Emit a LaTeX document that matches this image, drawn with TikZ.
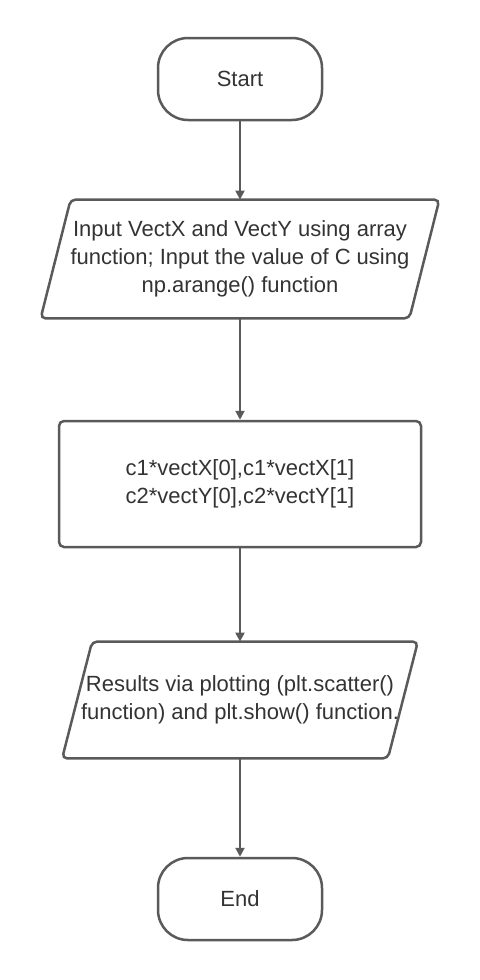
\documentclass[tikz,border=0pt]{standalone}
\usepackage{fontspec}
\setmainfont{Liberation Sans}
\usetikzlibrary{arrows.meta,calc}
\definecolor{edgegray}{HTML}{5A5A5A}
\definecolor{textgray}{HTML}{333333}

\begin{document}
\begin{tikzpicture}[x=0.5pt,y=-0.5pt,font=\fontsize{11}{14}\selectfont,
  terminal/.style={draw=edgegray,line width=1.25pt,rounded corners=15pt,minimum width=82pt,minimum height=41pt,text=textgray},
  process/.style={draw=edgegray,line width=1.25pt,rounded corners=2.5pt,minimum width=181pt,minimum height=63pt,align=center,text=textgray},
  io/.style={align=center,text=textgray,inner sep=0pt},
  flow/.style={draw=edgegray,line width=1pt,-{Triangle[width=4.5pt,length=4.5pt]}}]
  \useasboundingbox (0,0) rectangle (480,980);
  % boxes, top to bottom (units: px of the 480x980 sheet)
  \node[terminal] (start) at (240,79) {Start};
  \node[io,minimum width=184pt,minimum height=59pt] (input) at (240,259)
    {Input VectX and VectY using array\\function; Input the value of C using\\np.arange() function};
  \node[process] (calc) at (240,484)
    {c1*vectX[0],c1*vectX[1]\\c2*vectY[0],c2*vectY[1]};
  \node[io,minimum width=162.5pt,minimum height=58pt] (output) at (240,700)
    {Results via plotting (plt.scatter()\\function) and plt.show() function.};
  \node[terminal] (stop) at (240,899) {End};
  % slanted sides of the two input/output boxes
  \foreach \n in {input,output}
    \draw[edgegray,line width=1.25pt,rounded corners=2.5pt]
      ($(\n.north west)+(15,0)$) -- ($(\n.north east)+(15,0)$)
      -- ($(\n.south east)-(15,0)$) -- ($(\n.south west)-(15,0)$) -- cycle;
  % connectors
  \foreach \a/\b in {start/input,input/calc,calc/output,output/stop}
    \draw[flow] (\a) -- (\b);
\end{tikzpicture}
\end{document}
